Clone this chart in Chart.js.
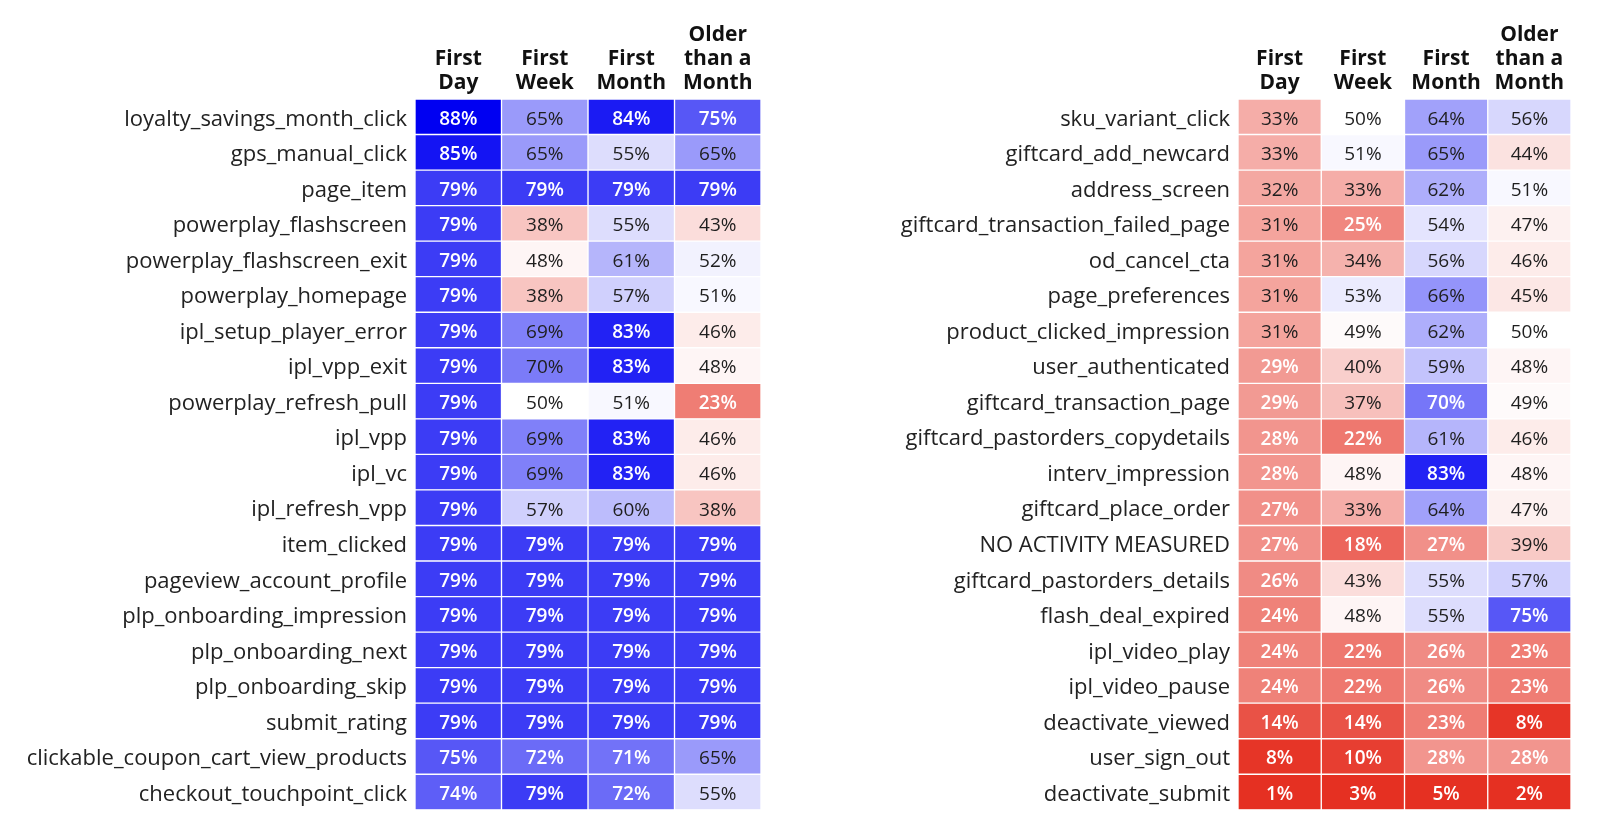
<!DOCTYPE html>
<html>
<head>
<meta charset="utf-8">
<script src="https://cdn.jsdelivr.net/npm/chart.js@4.4.1/dist/chart.umd.min.js"></script>
<style>
  html, body { margin: 0; padding: 0; background: #ffffff; }
  body { width: 1600px; height: 831px; position: relative; overflow: hidden; }
  canvas { position: absolute; top: 0; }
  #left { left: 0px; }
  #right { left: 830px; }
</style>
</head>
<body>
<canvas id="left" width="761" height="831"></canvas>
<canvas id="right" width="741" height="831"></canvas>
<script>
// ---------- DATA ----------
const columnLabels = [['First', 'Day'], ['First', 'Week'], ['First', 'Month'], ['Older', 'than a', 'Month']];

const leftEvents = [
  'loyalty_savings_month_click', 'gps_manual_click', 'page_item', 'powerplay_flashscreen',
  'powerplay_flashscreen_exit', 'powerplay_homepage', 'ipl_setup_player_error', 'ipl_vpp_exit',
  'powerplay_refresh_pull', 'ipl_vpp', 'ipl_vc', 'ipl_refresh_vpp', 'item_clicked',
  'pageview_account_profile', 'plp_onboarding_impression', 'plp_onboarding_next',
  'plp_onboarding_skip', 'submit_rating', 'clickable_coupon_cart_view_products', 'checkout_touchpoint_click'
];
const leftFirstDay   = [88, 85, 79, 79, 79, 79, 79, 79, 79, 79, 79, 79, 79, 79, 79, 79, 79, 79, 75, 74];
const leftFirstWeek  = [65, 65, 79, 38, 48, 38, 69, 69.6, 50, 69, 69, 57, 79, 79, 79, 79, 79, 79, 72, 79];
const leftFirstMonth = [84, 55, 79, 55, 61, 57, 83, 83, 51, 83, 83, 60, 79, 79, 79, 79, 79, 79, 71, 72];
const leftOlder      = [75, 65, 79, 43, 52, 51, 46, 48, 23, 46, 46, 38, 79, 79, 79, 79, 79, 79, 65, 55];

const rightEvents = [
  'sku_variant_click', 'giftcard_add_newcard', 'address_screen', 'giftcard_transaction_failed_page',
  'od_cancel_cta', 'page_preferences', 'product_clicked_impression', 'user_authenticated',
  'giftcard_transaction_page', 'giftcard_pastorders_copydetails', 'interv_impression',
  'giftcard_place_order', 'NO ACTIVITY MEASURED', 'giftcard_pastorders_details', 'flash_deal_expired',
  'ipl_video_play', 'ipl_video_pause', 'deactivate_viewed', 'user_sign_out', 'deactivate_submit'
];
const rightFirstDay   = [33, 33, 32, 31, 31, 31, 31, 29, 29, 28, 28, 27, 27, 26, 24, 24, 24, 14, 8, 1];
const rightFirstWeek  = [50, 51, 33, 25, 34, 53, 49, 40, 37, 22, 48, 33, 18, 43, 48, 22, 22, 14, 10, 3];
const rightFirstMonth = [64, 65, 62, 54, 56, 66, 62, 59, 70.4, 61, 83, 64, 27, 55, 55, 26, 26, 23, 28, 5];
const rightOlder      = [56, 44, 51, 47, 46, 45, 50, 48, 49, 46, 48, 47, 39, 57, 75, 23, 23, 8, 28, 2];

// ---------- COLOUR SCALE ----------
function cellColor(v) {
  let t, end;
  if (v >= 50) { t = Math.min(1, (v - 50) / 38); end = [0, 0, 242]; }
  else { t = Math.min(1, (50 - v) / 43); end = [229, 48, 34]; }
  const c = end.map(e => Math.round(255 + (e - 255) * t));
  return `rgb(${c[0]},${c[1]},${c[2]})`;
}
function textColor(v) { return (v > 70 || v < 30) ? '#ffffff' : '#1e1e1e'; }

const FONT = "'Open Sans', 'DejaVu Sans', sans-serif";

const cellLabels = {
  id: 'cellLabels',
  beforeDraw(chart) {
    const s = chart.scales.y;
    if (s && !s._shiftedLabels) {
      const orig = s.drawLabels.bind(s);
      s.drawLabels = function (ca) {
        const ctx = this.ctx;
        ctx.save();
        ctx.translate(0, 2.5);
        orig(ca);
        ctx.restore();
      };
      s._shiftedLabels = true;
    }
  },
  afterDatasetsDraw(chart) {
    const ctx = chart.ctx;
    ctx.save();
    ctx.textAlign = 'center';
    ctx.textBaseline = 'middle';
    chart.data.datasets.forEach((ds, di) => {
      const meta = chart.getDatasetMeta(di);
      meta.data.forEach((el, i) => {
        const v = ds.values[i];
        const p = el.getCenterPoint();
        const white = textColor(v) === '#ffffff';
        ctx.font = `${white ? 600 : 400} 19px ${FONT}`;
        ctx.fillStyle = textColor(v);
        ctx.fillText(Math.round(v) + '%', p.x, p.y + 2.5);
      });
    });
    ctx.restore();
  }
};

function makeHeatmap(canvasId, events, cols, yWidth) {
  const datasets = cols.map((vals, k) => ({
    data: events.map(() => [k, k + 1]),
    values: vals,
    backgroundColor: vals.map(cellColor),
    borderColor: '#ffffff',
    borderWidth: 1,
    borderSkipped: false,
    grouped: false,
    barPercentage: 1,
    categoryPercentage: 1
  }));
  return new Chart(document.getElementById(canvasId), {
    type: 'bar',
    data: { labels: events, datasets },
    plugins: [cellLabels],
    options: {
      responsive: false,
      animation: false,
      indexAxis: 'y',
      layout: { padding: { top: 0, bottom: 16, left: 0, right: 0 } },
      plugins: { legend: { display: false }, tooltip: { enabled: false } },
      scales: {
        x: { type: 'linear', min: 0, max: 4, display: false },
        x2: {
          type: 'category',
          position: 'top',
          labels: columnLabels,
          offset: true,
          grid: { display: false, drawTicks: false },
          border: { display: false },
          ticks: {
            color: '#111111',
            padding: 4,
            maxRotation: 0,
            autoSkip: false,
            font: { family: FONT, size: 21, weight: 'bold', lineHeight: 1.15 }
          },
          afterFit(scale) { scale.height = 99; }
        },
        y: {
          type: 'category',
          offset: true,
          grid: { display: false, drawTicks: false },
          border: { display: false },
          ticks: {
            color: '#222222',
            padding: 8,
            autoSkip: false,
            font: { family: FONT, size: 22 }
          },
          afterFit(scale) { scale.width = yWidth; }
        }
      }
    }
  });
}

makeHeatmap('left', leftEvents, [leftFirstDay, leftFirstWeek, leftFirstMonth, leftOlder], 415);
makeHeatmap('right', rightEvents, [rightFirstDay, rightFirstWeek, rightFirstMonth, rightOlder], 408);
</script>
</body>
</html>
